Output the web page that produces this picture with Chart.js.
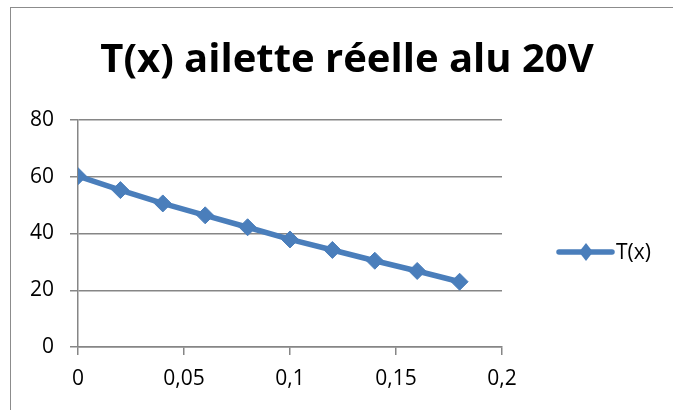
<!DOCTYPE html>
<html>
<head>
<meta charset="utf-8">
<script src="https://cdn.jsdelivr.net/npm/chart.js@4/dist/chart.umd.min.js"></script>
<style>
  html, body { margin: 0; padding: 0; background: #ffffff; }
  #wrap { position: relative; width: 673px; height: 410px; overflow: hidden; }
  #frame { position: absolute; left: 10px; top: 7px; width: 800px; height: 600px; border: 1.5px solid #8c8c8c; box-sizing: border-box; }
  canvas { position: absolute; left: 0; top: 0; }
</style>
</head>
<body>
<div id="wrap">
  <div id="frame"></div>
  <canvas id="c" width="673" height="410"></canvas>
</div>
<script>
const titleText = "T(x) ailette réelle alu 20V";
const seriesName = "T(x)";
const xValues = [0, 0.02, 0.04, 0.06, 0.08, 0.10, 0.12, 0.14, 0.16, 0.18];
const tValues = [60.2, 55.3, 50.6, 46.4, 42.2, 37.9, 34.2, 30.4, 26.8, 23.0];
const xTicks = [0, 0.05, 0.1, 0.15, 0.2];
const yTicks = [0, 20, 40, 60, 80];

const blue = '#4a7ebb';
const gridGray = '#868686';
const fontFam = "'Open Sans', 'Noto Sans', sans-serif";

const decorPlugin = {
  id: 'excelDecor',
  afterDraw(chart) {
    const ctx = chart.ctx;
    ctx.save();
    // title
    ctx.fillStyle = '#000';
    ctx.font = "bold 40px " + fontFam;
    ctx.textAlign = 'center';
    ctx.textBaseline = 'alphabetic';
    ctx.fillText(titleText, 347, 72);
    // legend
    const y = 252;
    ctx.strokeStyle = blue;
    ctx.lineWidth = 5.5;
    ctx.lineCap = 'round';
    ctx.beginPath();
    ctx.moveTo(559, y);
    ctx.lineTo(612, y);
    ctx.stroke();
    ctx.fillStyle = blue;
    ctx.beginPath();
    ctx.moveTo(586, y - 9);
    ctx.lineTo(593, y);
    ctx.lineTo(586, y + 9);
    ctx.lineTo(579, y);
    ctx.closePath();
    ctx.fill();
    ctx.fillStyle = '#000';
    ctx.font = "21px " + fontFam;
    ctx.textAlign = 'left';
    ctx.textBaseline = 'middle';
    ctx.fillText(seriesName, 616, y + 1);
    ctx.restore();
  }
};

new Chart(document.getElementById('c'), {
  type: 'scatter',
  data: {
    datasets: [{
      label: seriesName,
      data: xValues.map((x, i) => ({ x: x, y: tValues[i] })),
      showLine: true,
      borderColor: blue,
      backgroundColor: blue,
      borderWidth: 5.5,
      pointStyle: 'rectRot',
      pointRadius: 8.5,
      pointHoverRadius: 8.5,
      pointBackgroundColor: blue,
      pointBorderColor: blue,
      pointBorderWidth: 1,
      tension: 0
    }]
  },
  options: {
    responsive: false,
    animation: false,
    devicePixelRatio: 1,
    layout: { padding: { left: 0, right: 171, top: 120, bottom: 0 } },
    plugins: {
      legend: { display: false },
      tooltip: { enabled: false },
      title: { display: false }
    },
    scales: {
      x: {
        type: 'linear',
        min: 0, max: 0.2,
        afterBuildTicks(scale) { scale.ticks = xTicks.map(v => ({ value: v })); },
        afterFit(scale) { scale.height = 63; },
        ticks: {
          color: '#000',
          font: { family: fontFam, size: 21 },
          padding: 11,
          maxRotation: 0,
          callback: v => String(v).replace('.', ',')
        },
        grid: { drawOnChartArea: false, drawTicks: true, tickLength: 8, color: gridGray, lineWidth: 1.5 },
        border: { color: gridGray, width: 1.5 }
      },
      y: {
        type: 'linear',
        min: 0, max: 80,
        afterBuildTicks(scale) { scale.ticks = yTicks.map(v => ({ value: v })); },
        afterFit(scale) { scale.width = 78; },
        ticks: {
          color: '#000',
          font: { family: fontFam, size: 21 },
          padding: 16
        },
        grid: { drawTicks: true, tickLength: 8, color: gridGray, lineWidth: 1.5 },
        border: { color: gridGray, width: 1.5 }
      }
    }
  },
  plugins: [decorPlugin]
});
</script>
</body>
</html>
